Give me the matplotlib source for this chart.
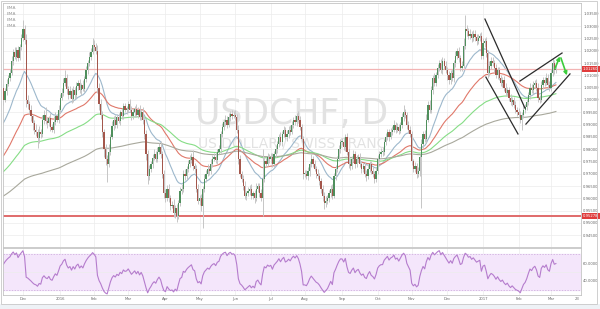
import numpy as np
import matplotlib
matplotlib.use("Agg")
import matplotlib.pyplot as plt
from matplotlib.patches import Rectangle
from matplotlib.transforms import blended_transform_factory

# ---------------- data (daily closes, USDCHF) ----------------
first_open = 1.0050
nov15 = [1.0000, 1.0035, 1.0065, 1.0090, 1.0110, 1.0160, 1.0195, 1.0175, 1.0205, 1.0170, 1.0215, 1.0250]
dec15 = [1.0290, 1.0245, 1.0000, 0.9985, 0.9960, 0.9935, 0.9905, 0.9880, 0.9870, 0.9845, 0.9870, 0.9860,
         0.9920, 0.9940, 0.9915, 0.9905, 0.9925, 0.9890, 0.9880, 0.9910, 0.9935, 0.9920, 0.9960]
jan16 = [1.0010, 1.0030, 1.0070, 1.0090, 1.0045, 1.0020, 1.0035, 1.0005, 1.0040, 1.0020, 1.0055, 1.0070,
         1.0040, 1.0060, 1.0045, 1.0085, 1.0120, 1.0150, 1.0175, 1.0195, 1.0225]
feb16 = [1.0215, 1.0200, 1.0050, 0.9985, 0.9940, 0.9870, 0.9800, 0.9760, 0.9740, 0.9790, 0.9850, 0.9895,
         0.9920, 0.9900, 0.9930, 0.9915, 0.9950, 0.9935, 0.9975, 0.9960, 0.9965]
mar16 = [0.9985, 0.9960, 0.9935, 0.9950, 0.9965, 0.9940, 0.9960, 0.9930, 0.9950, 0.9920, 0.9860, 0.9780,
         0.9690, 0.9720, 0.9740, 0.9765, 0.9780, 0.9760, 0.9790, 0.9810, 0.9780, 0.9700, 0.9620]
apr16 = [0.9600, 0.9640, 0.9600, 0.9570, 0.9575, 0.9540, 0.9560, 0.9530, 0.9580, 0.9630, 0.9640, 0.9700,
         0.9690, 0.9720, 0.9740, 0.9755, 0.9770, 0.9730, 0.9720, 0.9640, 0.9590]
may16 = [0.9600, 0.9570, 0.9640, 0.9680, 0.9700, 0.9720, 0.9710, 0.9740, 0.9760, 0.9770, 0.9755, 0.9790,
         0.9800, 0.9860, 0.9890, 0.9910, 0.9920, 0.9900, 0.9930, 0.9945, 0.9935, 0.9940]
jun16 = [0.9930, 0.9880, 0.9760, 0.9700, 0.9680, 0.9650, 0.9610, 0.9620, 0.9630, 0.9640, 0.9610, 0.9620,
         0.9600, 0.9640, 0.9650, 0.9620, 0.9600, 0.9680, 0.9750, 0.9740, 0.9770, 0.9760]
jul16 = [0.9770, 0.9740, 0.9780, 0.9800, 0.9820, 0.9850, 0.9830, 0.9860, 0.9880, 0.9850, 0.9860, 0.9880,
         0.9870, 0.9900, 0.9920, 0.9910, 0.9935, 0.9920, 0.9890, 0.9840, 0.9700]
aug16 = [0.9700, 0.9690, 0.9710, 0.9740, 0.9760, 0.9740, 0.9720, 0.9700, 0.9690, 0.9670, 0.9640, 0.9610,
         0.9580, 0.9590, 0.9600, 0.9620, 0.9640, 0.9610, 0.9690, 0.9720, 0.9760, 0.9800, 0.9830]
sep16 = [0.9830, 0.9810, 0.9850, 0.9790, 0.9740, 0.9730, 0.9760, 0.9780, 0.9740, 0.9760, 0.9770, 0.9740,
         0.9720, 0.9730, 0.9700, 0.9690, 0.9720, 0.9740, 0.9710, 0.9700, 0.9680, 0.9710]
oct16 = [0.9760, 0.9780, 0.9790, 0.9790, 0.9830, 0.9850, 0.9870, 0.9850, 0.9870, 0.9880, 0.9900, 0.9880,
         0.9890, 0.9875, 0.9900, 0.9930, 0.9950, 0.9940, 0.9900, 0.9880, 0.9860]
nov16 = [0.9750, 0.9720, 0.9730, 0.9700, 0.9710, 0.9770, 0.9820, 0.9860, 0.9840, 0.9920, 0.9980, 0.9960,
         1.0040, 1.0090, 1.0070, 1.0100, 1.0130, 1.0150, 1.0120, 1.0160, 1.0140, 1.0120]
dec16 = [1.0100, 1.0080, 1.0110, 1.0090, 1.0150, 1.0180, 1.0200, 1.0170, 1.0130, 1.0140, 1.0220, 1.0290,
         1.0280, 1.0260, 1.0270, 1.0250, 1.0270, 1.0255, 1.0240, 1.0250, 1.0260, 1.0180]
jan17 = [1.0230, 1.0240, 1.0190, 1.0110, 1.0140, 1.0160, 1.0150, 1.0130, 1.0100, 1.0120, 1.0090, 1.0070,
         1.0080, 1.0050, 1.0030, 1.0040, 1.0010, 0.9990, 1.0000, 0.9980, 0.9960, 0.9950]
feb17 = [0.9940, 0.9920, 0.9940, 0.9960, 0.9970, 0.9990, 1.0020, 1.0050, 1.0040, 1.0060, 1.0070, 1.0050,
         1.0010, 1.0000, 1.0060, 1.0080, 1.0070, 1.0090, 1.0060, 1.0050]
mar17 = [1.0110, 1.0150, 1.0120, 1.0126]

# wick lengths above / below body, in pips
nov15_up = [15,12,20,10,14,18,12,22,10,16,12,20]
nov15_dn = [20,10,14,8,12,10,16,10,18,12,8,10]
dec15_up = [35,15,25,20,12,18,10,15,22,12,25,14,18,20,30,12,10,22,14,25,15,10,20]
dec15_dn = [10,18,30,20,15,22,25,20,15,40,18,14,10,16,12,20,12,18,10,14,12,10,12]
jan16_up = [14,20,18,30,16,10,22,12,18,14,20,12,16,10,22,14,18,12,20,16,25]
jan16_dn = [12,10,14,12,20,15,10,18,12,16,10,14,12,18,10,12,10,14,10,12,10]
feb16_up = [20,15,25,20,18,14,12,22,15,30,12,18,14,20,12,16,10,18,12,14,10]
feb16_dn = [15,12,20,25,18,22,30,25,75,14,12,10,16,12,14,10,18,12,14,10,16]
mar16_up = [12,18,14,16,10,20,12,18,14,22,15,20,18,14,12,16,20,12,18,14,25,12,14]
mar16_dn = [14,10,16,12,18,10,14,12,10,16,18,22,30,14,12,16,10,14,12,10,14,16,18]
apr16_up = [20,14,18,12,16,22,14,18,12,16,20,14,18,12,16,20,14,25,12,16,18]
apr16_dn = [14,12,16,18,10,14,20,25,12,10,14,12,16,10,14,12,10,14,16,12,14]
may16_up = [14,16,12,20,14,18,12,22,16,14,20,12,18,14,16,12,20,14,18,12,16,14]
may16_dn = [18,20,90,12,14,10,16,12,14,10,12,16,10,14,12,10,16,12,10,14,12,10]
jun16_up = [20,14,18,16,12,14,20,12,16,14,18,12,16,22,14,12,18,120,20,14,16,12]
jun16_dn = [12,16,20,14,12,16,14,18,12,16,14,12,18,10,14,16,12,70,14,12,10,16]
jul16_up = [14,16,12,18,14,12,20,14,16,12,18,14,20,16,12,18,14,22,16,14,12]
jul16_dn = [16,12,14,10,16,12,14,18,12,10,16,14,12,10,14,12,16,10,14,12,20]
aug16_up = [16,14,18,12,20,14,16,12,18,14,12,16,14,18,12,16,14,20,12,16,14,18,12]
aug16_dn = [14,12,16,18,12,14,10,16,12,14,18,20,25,14,12,16,14,12,10,14,12,10,14]
sep16_up = [14,18,12,16,14,20,12,16,14,18,12,16,14,12,18,14,16,12,14,18,12,16]
sep16_dn = [12,14,16,12,18,14,12,10,16,12,14,12,16,14,12,18,12,14,10,12,16,14]
oct16_up = [16,12,14,18,12,16,14,12,18,14,20,12,16,14,12,18,30,14,12,16,14]
oct16_dn = [12,14,10,16,12,14,12,16,10,14,12,16,12,14,10,12,14,12,16,14,12]
nov16_up = [14,12,16,14,18,12,20,14,16,22,14,18,16,12,20,14,18,12,16,14,12,18]
nov16_dn = [16,14,12,18,14,20,210,14,12,16,10,14,12,16,14,12,10,14,12,16,14,12]
dec16_up = [14,18,12,16,14,20,12,16,14,18,30,54,16,14,18,12,16,14,12,18,14,16]
dec16_dn = [20,16,14,12,18,14,12,16,14,12,10,14,18,12,14,16,12,14,16,12,10,14]
jan17_up = [20,14,16,12,18,14,16,12,18,14,16,12,14,16,18,12,14,16,12,14,16,12]
jan17_dn = [12,14,16,20,12,14,10,16,12,14,10,12,16,14,12,10,14,12,16,14,12,14]
feb17_up = [16,14,12,18,14,16,12,18,14,16,12,14,18,12,16,14,12,18,14,16]
feb17_dn = [14,12,40,12,14,10,12,14,10,16,12,14,18,12,10,14,12,10,14,12]
mar17_up = [18,20,14,16]
mar17_dn = [12,14,16,12]

month_labels = ["Dec", "2016", "Feb", "Mar", "Apr", "May", "Jun", "Jul", "Aug", "Sep",
                "Oct", "Nov", "Dec", "2017", "Feb", "Mar"]
extra_tick_label = "23"
extra_tick_offset = 16          # trading days after 1 Mar 2017

ema_periods = [20, 50, 100, 200]
ema_seeds = [0.9898, 0.9764, 0.9703, 0.9606]   # values at first bar
ema_colors = ["#9db8cc", "#e0786a", "#86dd86", "#a8a89c"]
rsi_seed_gain, rsi_seed_loss = 0.0024, 0.0013

support_level = 0.95278
trend_lines = [((297.2, 1.0329), (321.9, 0.9967)),
               ((297.8, 1.0093), (317.6, 0.9862)),
               ((318.8, 1.0077), (344.8, 1.0191)),
               ((322.5, 0.9902), (349.7, 1.0106))]
green_arrows = [((340.4, 1.0128), (343.5, 1.0177)),
                ((344.1, 1.0171), (347.8, 1.0100))]

# ---------------- build series ----------------
months = [nov15, dec15, jan16, feb16, mar16, apr16, may16, jun16, jul16, aug16, sep16,
          oct16, nov16, dec16, jan17, feb17, mar17]
ups = [nov15_up, dec15_up, jan16_up, feb16_up, mar16_up, apr16_up, may16_up, jun16_up, jul16_up,
       aug16_up, sep16_up, oct16_up, nov16_up, dec16_up, jan17_up, feb17_up, mar17_up]
dns = [nov15_dn, dec15_dn, jan16_dn, feb16_dn, mar16_dn, apr16_dn, may16_dn, jun16_dn, jul16_dn,
       aug16_dn, sep16_dn, oct16_dn, nov16_dn, dec16_dn, jan17_dn, feb17_dn, mar17_dn]
close = np.concatenate([np.array(m, float) for m in months])
up = np.concatenate([np.array(u, float) for u in ups]) * 1e-4
dn = np.concatenate([np.array(d, float) for d in dns]) * 1e-4
opn = np.r_[first_open, close[:-1]]
hi = np.maximum(opn, close) + up
lo = np.minimum(opn, close) - dn
x = np.arange(len(close))
lengths = [len(m) for m in months]
month_starts = list(np.cumsum(lengths)[:-1])


def ema(vals, n, seed):
    a = 2.0 / (n + 1)
    e = seed
    out = []
    for v in vals:
        e = e + a * (v - e)
        out.append(e)
    return np.array(out)


def rsi(vals, prev, n, g0, l0):
    g, l = g0, l0
    out = []
    p = prev
    for v in vals:
        d = v - p
        g = (g * (n - 1) + max(d, 0)) / n
        l = (l * (n - 1) + max(-d, 0)) / n
        out.append(100 - 100 / (1 + g / l))
        p = v
    return np.array(out)


rsi_vals = rsi(close, first_open, 14, rsi_seed_gain, rsi_seed_loss)

# ---------------- figure ----------------
W, H = 600, 309
fig = plt.figure(figsize=(W / 100, H / 100), dpi=100)
fig.patch.set_facecolor("white")


def px_axes(l, t, r, b):
    return fig.add_axes([l / W, (H - b) / H, (r - l) / W, (b - t) / H])


fig.patches.append(Rectangle((0, 0), 1, (H - 304) / H, transform=fig.transFigure,
                             facecolor="#eef2f6", edgecolor="none", zorder=-5))
fig.patches.append(Rectangle((1 / W, (H - 304) / H), 596 / W, 303 / H, transform=fig.transFigure,
                             facecolor="none", edgecolor="#c8c8c8", lw=0.6, zorder=5))

ax = px_axes(3, 3, 581, 247)
axr = px_axes(3, 248, 581, 295)

xlim = (-0.3, 356.5)
price_ticks = np.round(np.arange(0.945, 1.0351, 0.005), 3)
TICK_FS = 2.7

for a in (ax, axr):
    a.set_xlim(*xlim)
    for s in a.spines.values():
        s.set_color("#c4c4c4")
        s.set_linewidth(0.6)
    a.set_facecolor("white")
    for ms in month_starts:
        a.axvline(ms, color="#ececec", lw=0.5, zorder=0)
    a.yaxis.tick_right()
    a.tick_params(axis="both", length=0, labelsize=TICK_FS, labelcolor="#666666", pad=1.5)

# price panel
ax.set_ylim(0.94024, 1.03943)
ax.set_yticks(price_ticks)
ax.set_yticklabels([f"{t:.5f}" for t in price_ticks])
for t in price_ticks:
    ax.axhline(t, color="#ececec", lw=0.5, zorder=0)
ax.set_xticks([])

ax.text(0.5, 0.545, "USDCHF, D", transform=ax.transAxes, ha="center", va="center",
        fontsize=25, color="#e2e2e2", zorder=0.5)
ax.text(0.5, 0.426, "US DOLLAR / SWISS FRANC", transform=ax.transAxes, ha="center", va="center",
        fontsize=10, color="#e2e2e2", zorder=0.5)

for i, (n, c) in enumerate(zip(ema_periods, ema_colors)):
    ax.plot(x, ema(close, n, ema_seeds[i]), color=c, lw=0.8, zorder=2)
    ax.text(0.007, 0.98 - i * 0.0245, "EMA", transform=ax.transAxes, fontsize=3.2,
            color="#999999", va="center", ha="left")

ax.vlines(x, lo, hi, color="#c6c6c6", lw=0.7, zorder=3)
body_col = np.where(close >= opn, "#4f8f5c", "#a4574c")
ax.bar(x, np.maximum(np.abs(close - opn), 0.0002), bottom=np.minimum(opn, close),
       width=0.75, color=body_col, edgecolor="none", zorder=4)

ax.axhline(support_level, color="#e06a6a", lw=1.4, zorder=2.5)
ax.axhline(close[-1], color="#f2b4b4", lw=0.9, zorder=2.5)

tr = blended_transform_factory(ax.transAxes, ax.transData)
for lvl in (support_level, close[-1]):
    ax.text(1.0035, lvl, f"{lvl:.5f}", transform=tr, fontsize=TICK_FS, color="white",
            va="center", ha="left", clip_on=False, zorder=6,
            bbox=dict(boxstyle="square,pad=0.3", fc="#e03c3c", ec="none"))

for (x0, y0), (x1, y1) in trend_lines:
    ax.plot([x0, x1], [y0, y1], color="#2b2b2b", lw=0.9, zorder=5)
for (x0, y0), (x1, y1) in green_arrows:
    ax.annotate("", xy=(x1, y1), xytext=(x0, y0),
                arrowprops=dict(arrowstyle="-|>", color="#3ccc3c", lw=1.2,
                                mutation_scale=5, shrinkA=0, shrinkB=0), zorder=6)

# RSI panel
axr.set_ylim(24.44, 76.67)
axr.axhspan(30, 70, color="#f4e6fb", zorder=0.2)
axr.axhline(30, color="#c9a6d8", lw=0.5, ls=(0, (2, 2)), zorder=0.3)
axr.axhline(70, color="#c9a6d8", lw=0.5, ls=(0, (2, 2)), zorder=0.3)
axr.axhline(50, color="#ececec", lw=0.5, zorder=0.25)
axr.plot(x, rsi_vals, color="#b57ccd", lw=0.8, zorder=2)
axr.set_yticks([40, 60])
axr.set_yticklabels(["40.0000", "60.0000"])
axr.set_xticks(month_starts + [month_starts[-1] + extra_tick_offset])
axr.set_xticklabels(month_labels + [extra_tick_label])

fig.savefig("out.png", dpi=100)
